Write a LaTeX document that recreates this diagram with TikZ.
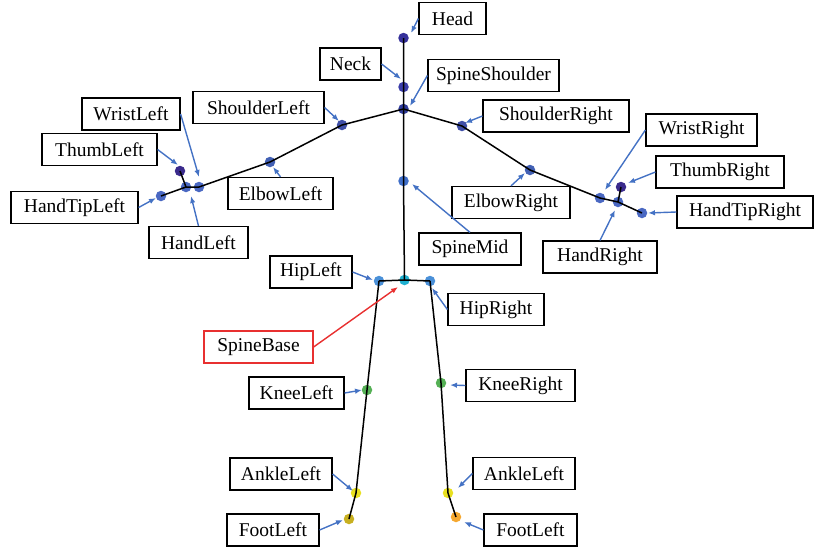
\documentclass[tikz,border=0pt]{standalone}
\usepackage{fontspec}
\setmainfont{Liberation Serif}
\usetikzlibrary{arrows.meta}
\definecolor{cHead}{HTML}{35309A}
\definecolor{cNeck}{HTML}{3A3CA8}
\definecolor{cSS}{HTML}{2E3A9A}
\definecolor{cShoulder}{HTML}{3F4FA8}
\definecolor{cElbow}{HTML}{4260B4}
\definecolor{cHand}{HTML}{4A68C2}
\definecolor{cThumb}{HTML}{3A2A8C}
\definecolor{cMid}{HTML}{3F6EC8}
\definecolor{cHip}{HTML}{4A90D8}
\definecolor{cBase}{HTML}{1FB0D0}
\definecolor{cKnee}{HTML}{55B055}
\definecolor{cAnkle}{HTML}{E8E020}
\definecolor{cFootL}{HTML}{C8B020}
\definecolor{cFootR}{HTML}{F5A830}
\definecolor{arrblue}{HTML}{4472C4}
\definecolor{redb}{HTML}{E83030}
\tikzset{
  joint/.style={circle, inner sep=0pt, minimum size=10.5pt},
  lbl/.style={draw=black, line width=1.2pt, fill=white, inner sep=0pt,
    minimum height=32pt, font=\fontsize{19.5}{22}\selectfont},
  bone/.style={draw=black, line width=1.5pt},
  arr/.style={draw=arrblue, line width=1.4pt, -{Latex[length=7pt,width=5.5pt]}},
}
\begin{document}
\begin{tikzpicture}[x=1pt,y=-1pt]
\useasboundingbox (0,0) rectangle (814,552);
% joints
\node[joint, fill=cHead] (jHead) at (403.5,38) {};
\node[joint, fill=cNeck] (jNeck) at (403.5,87) {};
\node[joint, fill=cSS] (jSS) at (403.5,109) {};
\node[joint, fill=cShoulder] (jSL) at (342,125) {};
\node[joint, fill=cShoulder] (jSR) at (462,126) {};
\node[joint, fill=cElbow] (jEL) at (270,162) {};
\node[joint, fill=cElbow] (jER) at (530,170) {};
\node[joint, fill=cHand] (jWL) at (199,187) {};
\node[joint, fill=cHand] (jHL) at (186,187) {};
\node[joint, fill=cThumb] (jTL) at (180,171) {};
\node[joint, fill=cHand] (jHTL) at (161,196) {};
\node[joint, fill=cHand] (jWR) at (600,198) {};
\node[joint, fill=cHand] (jHR) at (618,202) {};
\node[joint, fill=cThumb] (jTR) at (621,187) {};
\node[joint, fill=cHand] (jHTR) at (642,213) {};
\node[joint, fill=cMid] (jMid) at (403.5,181) {};
\node[joint, fill=cBase] (jBase) at (404.5,280) {};
\node[joint, fill=cHip] (jHipL) at (379,281) {};
\node[joint, fill=cHip] (jHipR) at (430,281) {};
\node[joint, fill=cKnee] (jKL) at (367,390) {};
\node[joint, fill=cKnee] (jKR) at (441,383) {};
\node[joint, fill=cAnkle] (jAL) at (356,493) {};
\node[joint, fill=cFootL] (jFL) at (349,519) {};
\node[joint, fill=cAnkle] (jAR) at (448,493) {};
\node[joint, fill=cFootR] (jFR) at (456,517) {};
% bones
\draw[bone] (jHead.center) -- (jNeck.center) -- (jSS.center) -- (jMid.center) -- (jBase.center);
\draw[bone] (jSS.center) -- (jSL.center) -- (jEL.center) -- (jWL.center) -- (jHL.center) -- (jHTL.center);
\draw[bone] (jHL.center) -- (jTL.center);
\draw[bone] (jSS.center) -- (jSR.center) -- (jER.center) -- (jWR.center) -- (jHR.center) -- (jHTR.center);
\draw[bone] (jHR.center) -- (jTR.center);
\draw[bone] (jHipL.center) -- (jBase.center) -- (jHipR.center);
\draw[bone] (jHipL.center) -- (jKL.center) -- (jAL.center) -- (jFL.center);
\draw[bone] (jHipR.center) -- (jKR.center) -- (jAR.center) -- (jFR.center);
% labels
\node[lbl, minimum width=67pt] (lHead) at (452.5,18.5) {Head};
\node[lbl, minimum width=61pt] (lNeck) at (350.5,64) {Neck};
\node[lbl, minimum width=131pt] (lSS) at (493.5,75.5) {SpineShoulder};
\node[lbl, minimum width=131pt] (lSL) at (258.5,107.5) {ShoulderLeft};
\node[lbl, minimum width=146pt] (lSR) at (556,116) {ShoulderRight};
\node[lbl, minimum width=98pt] (lWL) at (131,114) {WristLeft};
\node[lbl, minimum width=115pt] (lTL) at (99.5,149.5) {ThumbLeft};
\node[lbl, minimum width=127pt] (lHTL) at (74.5,207.5) {HandTipLeft};
\node[lbl, minimum width=99pt] (lHL) at (198.5,242.5) {HandLeft};
\node[lbl, minimum width=105pt] (lEL) at (280.5,193.5) {ElbowLeft};
\node[lbl, minimum width=111pt] (lWR) at (701.5,130) {WristRight};
\node[lbl, minimum width=128pt] (lTR) at (720,172) {ThumbRight};
\node[lbl, minimum width=136pt] (lHTR) at (745,212) {HandTipRight};
\node[lbl, minimum width=118pt] (lER) at (511,202.5) {ElbowRight};
\node[lbl, minimum width=114pt] (lHR) at (600,257) {HandRight};
\node[lbl, minimum width=102pt] (lMid) at (470,249) {SpineMid};
\node[lbl, minimum width=82pt] (lHipL) at (311,272) {HipLeft};
\node[lbl, minimum width=96pt] (lHipR) at (496,309.5) {HipRight};
\node[lbl, minimum width=109pt, draw=redb] (lBase) at (258.5,347) {SpineBase};
\node[lbl, minimum width=95pt] (lKL) at (296.5,393) {KneeLeft};
\node[lbl, minimum width=109pt] (lKR) at (520.5,385.5) {KneeRight};
\node[lbl, minimum width=102pt] (lAL) at (281,474) {AnkleLeft};
\node[lbl, minimum width=92pt] (lFL) at (273,530) {FootLeft};
\node[lbl, minimum width=102pt] (lAR) at (524,473.5) {AnkleLeft};
\node[lbl, minimum width=93pt] (lFR) at (530.5,530) {FootLeft};
% arrow tips
\coordinate (tHead) at (411,33);
\coordinate (tNeck) at (401,79);
\coordinate (tSS) at (410,106);
\coordinate (tSL) at (339,121);
\coordinate (tSR) at (465,123);
\coordinate (tWL) at (199,177);
\coordinate (tTL) at (178,165);
\coordinate (tHTL) at (156,198);
\coordinate (tHL) at (191,196);
\coordinate (tEL) at (273,167);
\coordinate (tER) at (525,173);
\coordinate (tWR) at (605,190);
\coordinate (tTR) at (628,183);
\coordinate (tHTR) at (648,213);
\coordinate (tHR) at (615,210);
\coordinate (tMid) at (412,184);
\coordinate (tHipL) at (373,280);
\coordinate (tHipR) at (432,288);
\coordinate (tBase) at (398,287);
\coordinate (tKL) at (362,390);
\coordinate (tKR) at (450,385);
\coordinate (tAL) at (353,491);
\coordinate (tFL) at (343,520);
\coordinate (tAR) at (458,488);
\coordinate (tFR) at (464,522);
% arrows
\draw[arr] (lHead.west) -- (tHead);
\draw[arr] (lNeck.east) -- (tNeck);
\draw[arr] (lSS.west) -- (tSS);
\draw[arr] (lSL.east) -- (tSL);
\draw[arr] (lSR.west) -- (tSR);
\draw[arr] (lWL.east) -- (tWL);
\draw[arr] (lTL.east) -- (tTL);
\draw[arr] (lHTL.east) -- (tHTL);
\draw[arr] (lHL.north) -- (tHL);
\draw[arr] (lEL.north) -- (tEL);
\draw[arr] (lER.north) -- (tER);
\draw[arr] (lWR.west) -- (tWR);
\draw[arr] (lTR.west) -- (tTR);
\draw[arr] (lHTR.west) -- (tHTR);
\draw[arr] (lHR.north) -- (tHR);
\draw[arr] (lMid.north) -- (tMid);
\draw[arr] (lHipL.east) -- (tHipL);
\draw[arr] (lHipR.west) -- (tHipR);
\draw[arr, draw=redb] (lBase.east) -- (tBase);
\draw[arr] (lKL.east) -- (tKL);
\draw[arr] (lKR.west) -- (tKR);
\draw[arr] (lAL.east) -- (tAL);
\draw[arr] (lFL.east) -- (tFL);
\draw[arr] (lAR.west) -- (tAR);
\draw[arr] (lFR.west) -- (tFR);
\end{tikzpicture}
\end{document}
